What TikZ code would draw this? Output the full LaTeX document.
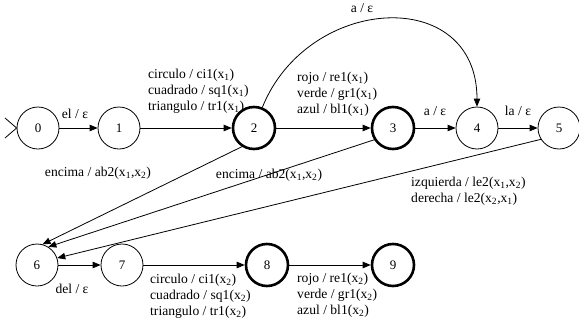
\documentclass[tikz,border=0pt]{standalone}
\usepackage{fontspec}
\setmainfont{Liberation Serif}
\usetikzlibrary{arrows.meta}

\tikzset{
  state/.style={circle, draw, line width=0.8pt, minimum size=42pt, inner sep=0pt},
  final/.style={state, line width=2.6pt},
  arr/.style={line width=0.8pt, -{Triangle[length=8pt,width=6.5pt]}},
  lab/.style={inner sep=0pt, align=left, font=\fontsize{13.6}{16}\selectfont}
}
\newcommand{\xs}[1]{x\textsubscript{#1}}

\begin{document}
\begin{tikzpicture}[x=1pt, y=1pt, font=\fontsize{13}{16}\selectfont]
    \useasboundingbox (0,0) rectangle (579,-327);
    % states, top row
    \node[state] (n0) at (38,-128) {0};
    \node[state] (n1) at (119,-128) {1};
    \node[final] (n2) at (254,-128) {2};
    \node[final] (n3) at (393,-128) {3};
    \node[state] (n4) at (477,-128) {4};
    \node[state] (n5) at (559,-128) {5};
    % states, bottom row
    \node[state] (n6) at (37,-265) {6};
    \node[state] (n7) at (122,-265) {7};
    \node[final] (n8) at (267,-265) {8};
    \node[final] (n9) at (393,-265) {9};
    % start marker
    \coordinate (s1) at (5,-118);
    \coordinate (s2) at (5,-138);
    \draw[line width=0.8pt] (s1) -- (n0.west) -- (s2);
    % transitions
    \draw[arr] (n0) -- (n1);
    \draw[arr] (n1) -- (n2);
    \draw[arr] (n2) -- (n3);
    \draw[arr] (n3) -- (n4);
    \draw[arr] (n4) -- (n5);
    \draw[arr] (n2.68) to[out=68, in=90, looseness=1.45] (n4.north);
    \draw[arr] (n2.237) -- (n6.75);
    \draw[arr] (n3.212) -- (n6.58);
    \draw[arr] (n5.212) -- (n6.19);
    \draw[arr] (n6) -- (n7);
    \draw[arr] (n7) -- (n8);
    \draw[arr] (n8) -- (n9);
    % labels
    \node[lab] (l01) at (75,-114) {el / ε};
    \node[lab, anchor=west] (l12) at (148,-91) {circulo / ci1(\xs{1})\\cuadrado / sq1(\xs{1})\\triangulo / tr1(\xs{1})};
    \node[lab, anchor=west] (l23) at (297,-94) {rojo / re1(\xs{1})\\verde / gr1(\xs{1})\\azul / bl1(\xs{1})};
    \node[lab] (l34) at (435,-111) {a / ε};
    \node[lab] (l45) at (518,-111) {la / ε};
    \node[lab] (l24) at (362,-8) {a / ε};
    \node[lab] (l26) at (98,-173) {encima / ab2(\xs{1},\xs{2})};
    \node[lab] (l36) at (269,-175) {encima / ab2(\xs{1},\xs{2})};
    \node[lab, anchor=west] (l56) at (411,-191) {izquierda / le2(\xs{1},\xs{2})\\derecha / le2(\xs{2},\xs{1})};
    \node[lab] (l67) at (72,-289) {del / ε};
    \node[lab, anchor=west] (l78) at (150,-296) {circulo / ci1(\xs{2})\\cuadrado / sq1(\xs{2})\\triangulo / tr1(\xs{2})};
    \node[lab, anchor=west] (l89) at (297,-295) {rojo / re1(\xs{2})\\verde / gr1(\xs{2})\\azul / bl1(\xs{2})};
\end{tikzpicture}
\end{document}
